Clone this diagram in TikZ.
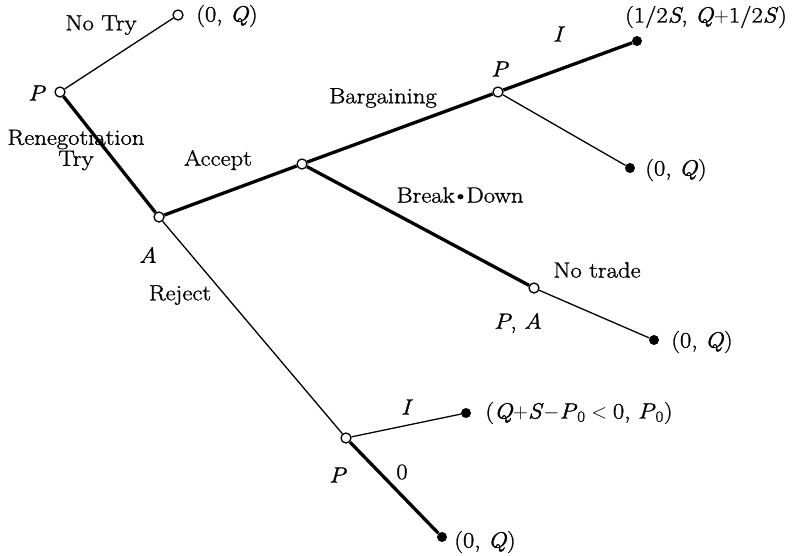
\documentclass[tikz,border=0pt]{standalone}
\usepackage{fontspec}
\setmainfont{Latin Modern Roman}[FakeStretch=1.12,FakeBold=1.2]
\begin{document}
\begin{tikzpicture}[x=1pt,y=-1pt,
  every node/.style={font=\fontsize{22}{25}\selectfont},
  opn/.style={circle,draw,fill=white,line width=1.3pt,minimum size=10pt,inner sep=0pt},
  fld/.style={circle,fill=black,minimum size=10pt,inner sep=0pt},
  thk/.style={line width=3.3pt},
  thn/.style={line width=1.3pt},
  lbl/.style={inner sep=0pt,anchor=center}]
\useasboundingbox (0,0) rectangle (794,555);
% decision nodes
\node[opn] (p0) at (60,92) {};
\node[opn] (nt) at (178,15) {};
\node[opn] (a) at (159,217) {};
\node[opn] (acc) at (302,164) {};
\node[opn] (pb) at (498,92) {};
\node[opn] (pa) at (534,288) {};
\node[opn] (pr) at (346,438) {};
% terminal nodes
\node[fld] (i1) at (637,41) {};
\node[fld] (q1) at (630,168) {};
\node[fld] (q2) at (654,340) {};
\node[fld] (i2) at (466,413) {};
\node[fld] (z0) at (442,537) {};
% edges
\draw[thn] (p0) -- (nt);
\draw[thk] (p0) -- (a);
\draw[thk] (a) -- (acc);
\draw[thk] (acc) -- (pb);
\draw[thk] (pb) -- (i1);
\draw[thn] (pb) -- (q1);
\draw[thk] (acc) -- (pa);
\draw[thn] (pa) -- (q2);
\draw[thn] (a) -- (pr);
\draw[thn] (pr) -- (i2);
\draw[thk] (pr) -- (z0);
% labels
\node[lbl] (lnotry) at (101,25) {No Try};
\node[lbl] (lnt) at (227,16) {(0,\ \textit{Q})};
\node[lbl] (lp0) at (37,93) {\textit{P}};
\node[lbl,align=center] (lreneg) at (76,150) {Renegotiation\\[-4pt]Try};
\node[lbl] (lacc) at (218,160) {Accept};
\node[lbl] (la) at (148,255) {\textit{A}};
\node[lbl] (lrej) at (180,295) {Reject};
\node[lbl] (lbarg) at (383,98) {Bargaining};
\node[lbl] (lpb) at (500,69) {\textit{P}};
\node[lbl] (li1) at (559,34) {\textit{I}};
\node[lbl] (lv1) at (706,17) {(1/2\textit{S},\ \textit{Q}$+$1/2\textit{S})};
\node[lbl] (lq1) at (676,170) {(0,\ \textit{Q})};
\node[lbl] (lbd) at (460,195) {Break\hspace{-3pt}•\hspace{-3pt}Down};
\node[lbl] (lnotr) at (597,270) {No trade};
\node[lbl] (lpa) at (518,323) {\textit{P},\ \textit{A}};
\node[lbl] (lq2) at (702,342) {(0,\ \textit{Q})};
\node[lbl] (li2) at (407,407) {\textit{I}};
\node[lbl] (lv2) at (579,413) {(\textit{Q}$+$\textit{S}$-$\textit{P}\textsubscript{0}$\;<\;$0,\ \textit{P}\textsubscript{0})};
\node[lbl] (lpr) at (338,475) {\textit{P}};
\node[lbl] (lz) at (402,472) {0};
\node[lbl] (lq3) at (485,542) {(0,\ \textit{Q})};
\end{tikzpicture}
\end{document}
